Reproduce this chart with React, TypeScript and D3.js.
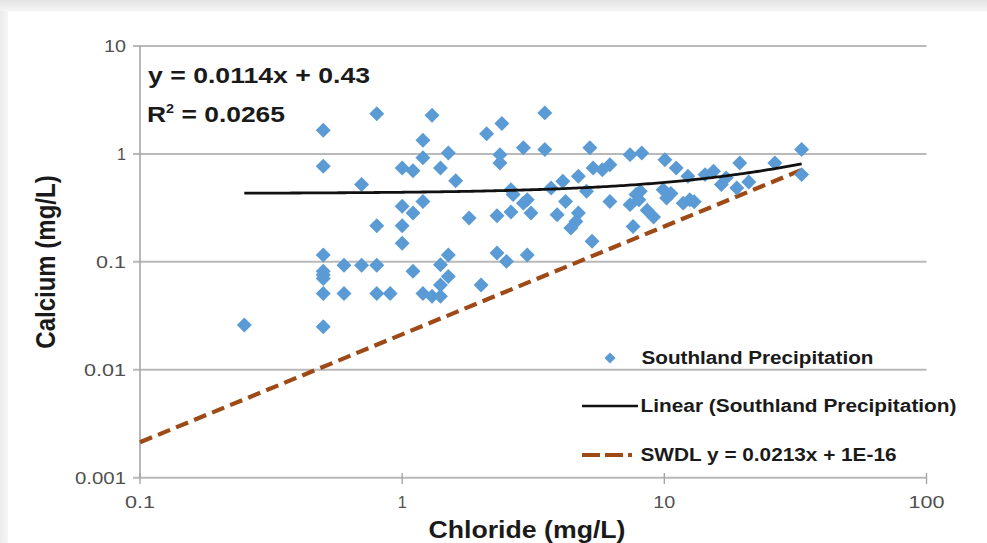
import React from "react";
import * as d3 from "d3";

// Chloride (mg/L) values of the Southland Precipitation samples
const chloride: number[] = [
  0.25, 0.5, 0.5, 0.5, 0.5, 0.5, 0.5, 0.5, 0.5, 0.6, 0.6, 0.7, 0.7, 0.8, 0.8, 0.8, 0.8, 0.9,
  1.0, 1.0, 1.0, 1.0, 1.1, 1.1, 1.1, 1.2, 1.2, 1.2, 1.2, 1.3, 1.3, 1.4, 1.4, 1.4, 1.4,
  1.5, 1.5, 1.5, 1.6, 1.8, 2.0, 2.1, 2.3, 2.3, 2.4, 2.36, 2.36, 2.5, 2.6, 2.65, 2.6,
  2.9, 2.9, 3.0, 3.1, 3.0, 3.5, 3.5, 3.7, 3.9, 4.1, 4.2, 4.4, 4.6, 4.7, 4.7, 5.05,
  5.2, 5.3, 5.35, 5.8, 6.2, 6.2, 7.4, 7.4, 7.6, 8.0, 8.1, 8.2, 7.8, 9.1, 9.9, 10.05,
  10.2, 11.1, 11.8, 12.3, 12.5, 14.3, 15.4, 16.5, 17.2, 18.9, 19.4, 26.4, 33.4, 33.4,
  10.6, 13.0, 21.0, 8.6
];
// Calcium (mg/L) values, same order
const calcium: number[] = [
  0.026, 1.66, 0.77, 0.116, 0.082, 0.076, 0.07, 0.051, 0.025, 0.093, 0.051, 0.52, 0.093, 2.36, 0.216, 0.093, 0.051, 0.051,
  0.74, 0.327, 0.216, 0.149, 0.7, 0.284, 0.082, 1.34, 0.92, 0.363, 0.051, 2.28, 0.048, 0.74, 0.094, 0.061, 0.048,
  1.02, 0.116, 0.073, 0.565, 0.255, 0.061, 1.54, 0.268, 0.121, 1.91, 0.985, 0.825, 0.101, 0.29, 0.42, 0.466,
  1.14, 0.35, 0.377, 0.284, 0.116, 2.4, 1.1, 0.484, 0.273, 0.557, 0.363, 0.206, 0.237, 0.62, 0.284, 0.45,
  1.14, 0.155, 0.74, 0.715, 0.795, 0.363, 0.985, 0.339, 0.213, 0.377, 0.45, 1.02, 0.42, 0.26, 0.466, 0.885,
  0.39, 0.74, 0.35, 0.62, 0.377, 0.643, 0.69, 0.52, 0.6, 0.484, 0.825, 0.825, 1.1, 0.643,
  0.43, 0.36, 0.55, 0.3
];

const xTicks: number[] = [0.1, 1, 10, 100];
const xTickLabels: string[] = ["0.1", "1", "10", "100"];
const yTicks: number[] = [0.001, 0.01, 0.1, 1, 10];
const yTickLabels: string[] = ["0.001", "0.01", "0.1", "1", "10"];

// Trend line coefficients (Linear (Southland Precipitation)) and SWDL
const trendSlope = 0.0114;
const trendIntercept = 0.43;
const swdlSlope = 0.0213;
const swdlIntercept = 1e-16;

const seriesName = "Southland Precipitation";
const trendName = "Linear (Southland Precipitation)";
const swdlName = "SWDL y = 0.0213x + 1E-16";
const eqText = "y = 0.0114x + 0.43";
const xTitle = "Chloride (mg/L)";
const yTitle = "Calcium (mg/L)";

const W = 987;
const H = 543;
const BLUE = "#5b9bd5";
const BROWN = "#9e4a17";

export default function App() {
  const x = d3.scaleLog().domain([0.1, 100]).range([140, 926.5]);
  const y = d3.scaleLog().domain([0.001, 10]).range([477.7, 46]);
  const pts = chloride.map((c, i) => ({ x: c, y: calcium[i] }));
  const xmin = d3.min(chloride) as number;
  const xmax = d3.max(chloride) as number;

  const trendXs = d3.range(0, 201).map((i) => Math.exp(Math.log(xmin) + (Math.log(xmax) - Math.log(xmin)) * i / 200));
  const line = d3.line<number>().x((v) => x(v)).y((v) => y(trendSlope * v + trendIntercept));
  const swdlLine = d3.line<number>().x((v) => x(v)).y((v) => y(swdlSlope * v + swdlIntercept));
  const diamond = d3.symbol().type(d3.symbolSquare).size(112)();
  const legDiamond = d3.symbol().type(d3.symbolSquare).size(62)();

  const tickFont = "Arial, 'Liberation Sans', sans-serif";
  const yLabelLen: Record<string, number> = { "0.001": 51, "0.01": 42, "0.1": 30, "1": 9, "10": 22 };
  const xLabelLen: Record<string, number> = { "0.1": 30, "1": 9, "10": 22, "100": 36 };

  return (
    <div style={{ position: "absolute", left: 0, top: 0 }}>
      <svg width={W} height={H} style={{ display: "block" }}>
        <defs>
          <linearGradient id="topg" x1="0" y1="0" x2="0" y2="1">
            <stop offset="0" stopColor="#e4e4e4" />
            <stop offset="1" stopColor="#f4f4f4" />
          </linearGradient>
          <linearGradient id="leftg" x1="0" y1="0" x2="1" y2="0">
            <stop offset="0" stopColor="#ececec" />
            <stop offset="1" stopColor="#f6f6f6" />
          </linearGradient>
        </defs>
        <rect x={0} y={0} width={W} height={H} fill="#f3f3f3" />
        <rect x={0} y={0} width={W} height={11} fill="url(#topg)" />
        <rect x={0} y={11} width={8} height={H} fill="url(#leftg)" />
        <rect x={8} y={11} width={W - 8} height={H - 11} fill="#ffffff" />

        {/* gridlines */}
        {yTicks.map((t) => (
          <line key={"g" + t} x1={133} x2={926.5} y1={y(t)} y2={y(t)} stroke="#b9b9b9" strokeWidth={2} />
        ))}
        {/* y axis */}
        <line x1={140} x2={140} y1={y(10)} y2={y(0.001)} stroke="#a6a6a6" strokeWidth={1.6} />
        {/* x ticks */}
        {xTicks.map((t) => (
          <line key={"xt" + t} x1={x(t)} x2={x(t)} y1={473} y2={484} stroke="#a6a6a6" strokeWidth={1.4} />
        ))}
        {/* y tick labels */}
        {yTicks.map((t, i) => (
          <text key={"yl" + t} x={126} y={y(t) + 6} textAnchor="end" fontFamily={tickFont} fontSize={17}
            fill="#505050" textLength={yLabelLen[yTickLabels[i]]} lengthAdjust="spacingAndGlyphs">
            {yTickLabels[i]}
          </text>
        ))}
        {/* x tick labels */}
        {xTicks.map((t, i) => (
          <text key={"xl" + t} x={x(t) - xLabelLen[xTickLabels[i]] / 2} y={508} fontFamily={tickFont} fontSize={17}
            fill="#505050" textLength={xLabelLen[xTickLabels[i]]} lengthAdjust="spacingAndGlyphs">
            {xTickLabels[i]}
          </text>
        ))}

        {/* SWDL dashed */}
        <path d={swdlLine([0.1, xmax]) || ""} fill="none" stroke={BROWN} strokeWidth={4.2}
          strokeDasharray="13,6.5" />

        {/* points */}
        {pts.map((p, i) => (
          <path key={"p" + i} d={diamond} transform={`translate(${x(p.x)},${y(p.y)}) rotate(45)`} fill={BLUE} />
        ))}

        {/* trend line */}
        <path d={line(trendXs) || ""} fill="none" stroke="#111" strokeWidth={2.8} />

        {/* equation */}
        <text x={148} y={83} fontFamily={tickFont} fontWeight="bold" fontSize={22} fill="#1a1a1a"
          textLength={222} lengthAdjust="spacingAndGlyphs">{eqText}</text>
        <text x={147} y={121.5} fontFamily={tickFont} fontWeight="bold" fontSize={22} fill="#1a1a1a"
          textLength={138} lengthAdjust="spacingAndGlyphs">
          <tspan>R</tspan>
          <tspan dy={-9} fontSize={12}>2</tspan>
          <tspan dy={9}> = 0.0265</tspan>
        </text>

        {/* legend */}
        <path d={legDiamond} transform="translate(610,358) rotate(45)" fill={BLUE} />
        <text x={641.5} y={364} fontFamily={tickFont} fontWeight="bold" fontSize={18} fill="#1a1a1a"
          textLength={232} lengthAdjust="spacingAndGlyphs">{seriesName}</text>
        <line x1={582} x2={638} y1={406} y2={406} stroke="#111" strokeWidth={2.6} />
        <text x={640.5} y={412} fontFamily={tickFont} fontWeight="bold" fontSize={18} fill="#1a1a1a"
          textLength={316} lengthAdjust="spacingAndGlyphs">{trendName}</text>
        <line x1={582} x2={640} y1={455} y2={455} stroke={BROWN} strokeWidth={4.2} strokeDasharray="18,5,18,5,4,10" />
        <text x={640.5} y={461} fontFamily={tickFont} fontWeight="bold" fontSize={18} fill="#1a1a1a"
          textLength={256} lengthAdjust="spacingAndGlyphs">{swdlName}</text>

        {/* axis titles */}
        <text x={527} y={538} textAnchor="middle" fontFamily={tickFont} fontWeight="bold" fontSize={23} fill="#1a1a1a"
          textLength={197} lengthAdjust="spacingAndGlyphs">{xTitle}</text>
        <text transform="translate(55,262) scale(1.15,1) rotate(-90)" textAnchor="middle" fontFamily={tickFont} fontWeight="bold"
          fontSize={24} fill="#1a1a1a">{yTitle}</text>
      </svg>
    </div>
  );
}
